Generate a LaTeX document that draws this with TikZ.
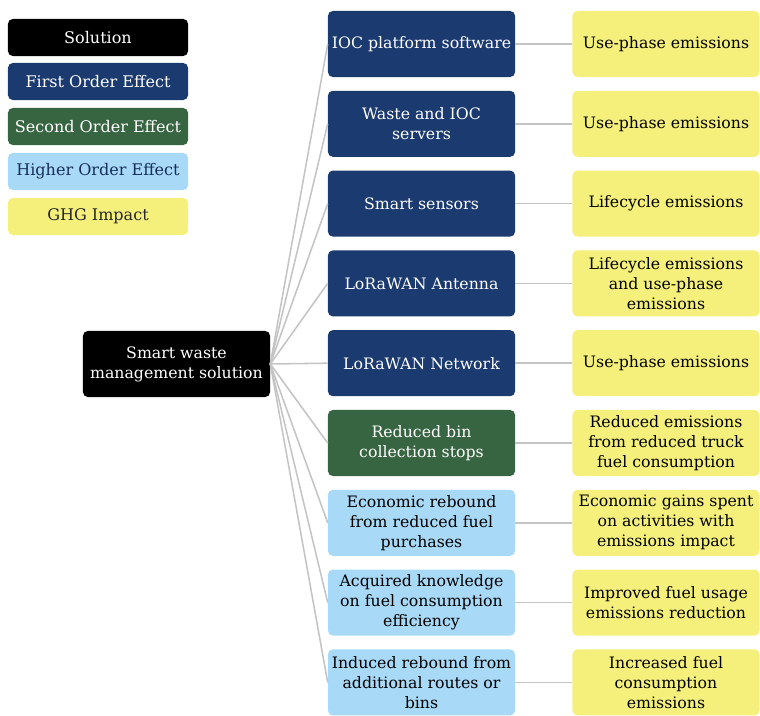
\documentclass[tikz,border=0pt]{standalone}
\usepackage{fontspec}
\setmainfont{DejaVu Serif}
\definecolor{firstblue}{HTML}{1B3A6F}
\definecolor{secondgreen}{HTML}{386541}
\definecolor{higherblue}{HTML}{A8D9F6}
\definecolor{ghgyellow}{HTML}{F5F07C}
\definecolor{linkgray}{HTML}{C4C4C4}
\tikzset{
	box/.style={rounded corners=1.2mm, minimum width=4.675cm, minimum height=1.65cm,
		align=center, inner sep=1pt,
		font=\fontsize{11.2}{14.2}\selectfont},
	legendbox/.style={rounded corners=1.2mm, minimum width=4.5cm, minimum height=0.925cm,
		align=center, inner sep=1pt, font=\fontsize{11.4}{14.2}\selectfont},
	link/.style={draw=linkgray, line width=1.1pt}
}
\begin{document}
\begin{tikzpicture}[x=0.025cm, y=-0.025cm]
	\useasboundingbox (0,0) rectangle (760,715);
	
	% legend
	\foreach \y/\c/\t/\txt [count=\i] in {37.5/black/white/Solution, 81.5/firstblue/white/First Order Effect,
		126.5/secondgreen/white/Second Order Effect, 171.5/higherblue/firstblue!80!black/Higher Order Effect,
		216.5/ghgyellow/black!85/GHG Impact}
	{
		\node[legendbox, fill=\c, text=\t] (leg\i) at (98, \y) {\txt};
	}
	
	\node[box, fill=black, text=white] (main) at (176.5, 364) {Smart waste\\management solution};
	
	\foreach \c/\t/\eff/\ghg [count=\i] in {
		firstblue/white/{IOC platform software}/{Use-phase emissions},
		firstblue/white/{Waste and IOC\\servers}/{Use-phase emissions},
		firstblue/white/{Smart sensors}/{Lifecycle emissions},
		firstblue/white/{LoRaWAN Antenna}/{Lifecycle emissions\\and use-phase\\emissions},
		firstblue/white/{LoRaWAN Network}/{Use-phase emissions},
		secondgreen/white/{Reduced bin\\collection stops}/{Reduced emissions\\from reduced truck\\fuel consumption},
		higherblue/black/{Economic rebound\\from reduced fuel\\purchases}/{Economic gains spent\\on activities with\\emissions impact},
		higherblue/black/{Acquired knowledge\\on fuel consumption\\efficiency}/{Improved fuel usage\\emissions reduction},
		higherblue/black/{Induced rebound from\\additional routes or\\bins}/{Increased fuel\\consumption\\emissions}}
	{
		\node[box, fill=\c, text=\t] (eff\i) at (421.5, 44 + 79.8*\i - 79.8) {\eff};
		\node[box, fill=ghgyellow, text=black] (ghg\i) at (666, 44 + 79.8*\i - 79.8) {\ghg};
		\draw[link] (main.east) -- (eff\i.west);
		\draw[link] (eff\i.east) -- (ghg\i.west);
	}
\end{tikzpicture}
\end{document}
